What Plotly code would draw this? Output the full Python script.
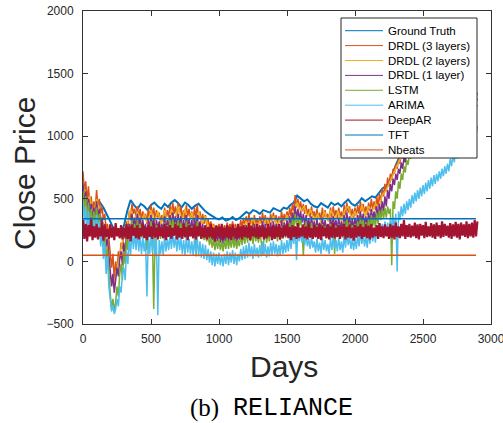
import plotly.graph_objects as go

# ---------------- data ----------------
days = list(range(0, 2901, 25))        # 25-day sampling
days_fine = list(range(0, 2901, 10))   # 10-day sampling for the noisy forecasts

ground_truth = [
    500, 470, 450, 430, 440, 470, 430, 380, 320, 260,
    220, 240, 280, 400, 490, 450, 420, 460, 440, 410,
    450, 470, 440, 420, 460, 435, 470, 490, 465, 430,
    470, 450, 420, 445, 460, 430, 400, 380, 360, 345,
    335, 350, 325, 335, 355, 330, 345, 370, 395, 380,
    410, 400, 380, 410, 400, 390, 425, 410, 400, 430,
    420, 450, 470, 525, 500, 480, 495, 460, 440, 430,
    465, 450, 430, 470, 450, 465, 440, 470, 495, 460,
    445, 470, 505, 480, 500, 520, 510, 550, 580, 600,
    625, 690, 770, 830, 870, 910, 960, 1000, 1040, 1080,
    1120, 1100, 1150, 1180, 1150, 1200, 1230, 1210, 1250, 1280,
    1260, 1300, 1320, 1290, 1330, 1350, 1340]

drdl3 = [
    720, 560, 640, 480, 600, 450, 520, 400, 480, 420,
    570, 430, 500, 380, 440, 330, 380, 260, 300, 180,
    120, -50, 60, -150, 0, -100, 80, 20, 150, 100,
    250, 180, 320, 260, 400, 330, 460, 380, 420, 350,
    440, 360, 420, 330, 400, 340, 380, 300, 420, 340,
    450, 360, 430, 330, 410, 350, 390, 310, 370, 320,
    430, 340, 410, 350, 450, 370, 470, 380, 440, 360,
    470, 380, 440, 340, 410, 330, 450, 360, 420, 340,
    400, 320, 430, 350, 450, 340, 400, 310, 380, 300,
    370, 290, 340, 270, 320, 260, 300, 240, 290, 250,
    300, 240, 280, 230, 290, 250, 310, 240, 300, 260,
    320, 250, 300, 240, 290, 260, 330, 270, 350, 280,
    360, 290, 380, 300, 350, 280, 370, 300, 340, 290,
    360, 300, 390, 310, 370, 290, 350, 300, 380, 310,
    390, 320, 370, 300, 360, 310, 400, 320, 380, 330,
    400, 340, 430, 360, 460, 400, 530, 430, 500, 420,
    480, 400, 460, 380, 450, 370, 420, 350, 440, 360,
    400, 330, 420, 340, 390, 320, 430, 350, 410, 340,
    380, 320, 430, 350, 440, 360, 410, 340, 430, 350,
    400, 330, 450, 370, 470, 390, 440, 360, 420, 350,
    430, 360, 450, 380, 480, 400, 460, 380, 440, 370,
    470, 400, 500, 420, 480, 410, 520, 440, 540, 470,
    580, 520, 620, 560, 670, 600, 700, 650, 740, 700,
    780, 740, 820, 780, 860, 820, 900, 860, 940, 900,
    980, 940, 1010, 980, 1050, 1010, 1080, 1050, 1110, 1080,
    1120, 1090, 1140, 1110, 1160, 1130, 1180, 1150, 1170, 1140,
    1190, 1160, 1210, 1180, 1230, 1200, 1220, 1190, 1240, 1210,
    1260, 1230, 1280, 1250, 1270, 1240, 1290, 1260, 1310, 1280,
    1320, 1290, 1310, 1280, 1330, 1300, 1340, 1310, 1350, 1320,
    1340]

drdl2 = [
    620, 460, 520, 360, 500, 380, 300, 100, -100, -200,
    -50, 80, 220, 290, 420, 310, 400, 290, 380, 300,
    410, 310, 400, 290, 410, 300, 420, 330, 440, 320,
    420, 300, 390, 290, 400, 300, 360, 260, 300, 230,
    280, 220, 270, 230, 290, 240, 280, 250, 320, 260,
    350, 270, 320, 280, 350, 280, 360, 290, 340, 300,
    370, 310, 400, 470, 400, 440, 360, 410, 320, 380,
    310, 400, 320, 410, 330, 400, 320, 410, 440, 340,
    400, 330, 450, 360, 440, 400, 460, 430, 530, 560,
    620, 680, 740, 800, 860, 900, 950, 990, 1030, 1070,
    1090, 1100, 1130, 1150, 1140, 1180, 1200, 1190, 1220, 1250,
    1240, 1270, 1290, 1270, 1300, 1320, 1310]

drdl1 = [
    620, 450, 560, 380, 500, 350, 460, 320, 430, 340,
    480, 350, 420, 280, 350, 200, 300, 120, 180, 40,
    -50, -200, -100, -250, -150, -50, -120, 20, 80, -30,
    150, 60, 230, 150, 300, 220, 380, 270, 350, 260,
    380, 280, 350, 250, 330, 240, 300, 120, 340, 250,
    370, 280, 340, 230, 330, 260, 320, 220, 300, 240,
    360, 250, 330, 260, 370, 280, 390, 290, 360, 270,
    380, 280, 360, 250, 330, 240, 370, 260, 340, 250,
    330, 240, 350, 260, 370, 250, 320, 220, 300, 210,
    290, 200, 260, 180, 240, 170, 230, 150, 220, 160,
    230, 150, 210, 140, 220, 160, 240, 150, 230, 170,
    250, 160, 230, 150, 220, 170, 260, 180, 280, 190,
    290, 200, 310, 210, 280, 190, 300, 210, 270, 200,
    290, 210, 320, 220, 300, 200, 280, 210, 310, 220,
    320, 230, 300, 210, 290, 220, 330, 230, 310, 240,
    330, 250, 360, 270, 390, 310, 440, 340, 420, 330,
    400, 310, 380, 290, 370, 280, 340, 260, 360, 270,
    320, 240, 340, 250, 310, 230, 350, 260, 330, 250,
    300, 230, 350, 260, 360, 270, 330, 250, 350, 260,
    320, 240, 370, 280, 390, 300, 360, 270, 340, 260,
    350, 270, 370, 290, 400, 310, 380, 290, 360, 280,
    390, 310, 420, 330, 400, 320, 440, 350, 460, 380,
    480, 400, 520, 440, 570, 500, 620, 560, 660, 610,
    700, 650, 740, 700, 790, 740, 830, 790, 870, 830,
    910, 870, 950, 910, 990, 950, 1020, 990, 1050, 1020,
    1070, 1040, 1090, 1060, 1110, 1080, 1130, 1100, 1120, 1090,
    1150, 1120, 1170, 1140, 1190, 1160, 1180, 1150, 1200, 1170,
    1220, 1190, 1240, 1210, 1230, 1200, 1250, 1220, 1270, 1240,
    1280, 1250, 1270, 1240, 1290, 1260, 1300, 1270, 1310, 1280,
    1300]

lstm = [
    560, 400, 520, 330, 470, 300, 420, 280, 400, 300,
    430, 300, 380, 220, 300, 120, 230, 20, 100, -120,
    -250, -380, -300, -390, -330, -200, -280, -100, -20, -150,
    80, -20, 180, 90, 280, 180, 330, 220, 300, 200,
    330, 220, 300, 190, 280, 200, 260, 90, 290, 200,
    320, 220, -380, 200, 290, 210, 280, 180, 260, 190,
    310, 210, 290, 220, 330, 240, 340, 250, 310, 220,
    330, 230, 310, 200, 290, 190, 320, 210, 300, 200,
    280, 190, 300, 40, 320, 200, 280, 180, 260, 170,
    250, 160, 210, 130, 190, 110, 180, 90, 170, 100,
    180, 90, 160, 80, 170, 100, 190, 100, 180, 110,
    200, 110, 180, 100, 170, 120, 210, 130, 230, 140,
    240, 150, 260, 160, 230, 140, 250, 160, 220, 150,
    240, 160, 60, 170, 250, 150, 230, 160, 260, 170,
    270, 180, 250, 160, 240, 170, 280, 180, 260, 190,
    280, 200, 310, 220, 340, 260, 380, 290, 360, 280,
    340, 260, 50, 240, 320, 230, 290, 210, 310, 220,
    270, 190, 290, 200, 260, 180, 300, 210, 280, 200,
    250, 180, 300, 210, 310, 60, 280, 200, 300, 210,
    270, 190, 320, 230, 340, 250, 310, 220, 290, 210,
    300, 220, 320, 240, 350, 260, 330, 240, 310, 230,
    340, 260, 370, 280, 350, 270, 390, 300, 410, 330,
    420, 340, 430, 350, 440, 380, 420, -30, 480, 420,
    560, 500, 640, 580, 700, 650, 760, 710, 810, 770,
    860, 820, 900, 860, 940, 900, 970, 940, 1000, 970,
    1020, 990, 1040, 1010, 1060, 1030, 1080, 1050, 1070, 1040,
    1100, 1070, 1120, 1090, 1140, 1110, 1130, 1100, 1150, 1120,
    1170, 1140, 1190, 1160, 1180, 1150, 1200, 1170, 1220, 1190,
    1230, 1200, 1220, 1190, 1240, 1210, 1250, 1220, 1260, 1230,
    1250]

arima = [
    480, 300, 440, 230, 400, 200, 360, 180, 330, 200,
    370, 200, 320, 120, 250, 20, 150, -100, 50, -200,
    -300, -400, -350, -420, -380, -300, -360, -200, -250, -100,
    -50, -150, 80, -20, 180, 50, 250, 100, 220, 90,
    240, 80, 210, 60, 190, 80, 170, -280, 200, 60,
    220, 70, 190, 40, 180, -430, 170, 60, 160, 50,
    210, 80, 180, 90, 220, 100, 230, 110, 200, 80,
    220, 90, 190, 60, 170, 50, 200, 70, 180, 60,
    160, 50, 180, 60, 190, 40, 160, 30, 140, 20,
    130, 10, 100, -10, 80, -30, 70, -40, 60, -20,
    70, -30, 50, -40, 60, -20, 80, -30, 70, -10,
    90, -20, 70, -30, 60, 0, 100, 10, 120, 20,
    130, 30, 150, 40, 120, 20, 140, 40, 110, 30,
    130, 40, 160, 50, 140, 30, 120, 40, 150, 50,
    160, 60, 140, 40, 130, 50, 170, 60, 150, 70,
    170, 80, 200, 100, 230, 140, 280, 10, 260, 160,
    240, 150, 220, 130, 210, 120, 180, 100, 200, 110,
    160, 70, 180, 80, 150, 60, 190, 90, 170, 80,
    140, 60, 190, 90, 200, 100, 170, 80, 190, 90,
    160, 70, 210, 110, 230, 130, 200, 100, 180, 90,
    190, 100, 210, 120, 240, 140, 220, 120, 200, 110,
    230, 140, 260, 160, 240, 150, 280, 180, 300, 200,
    300, 210, 320, 230, 310, 220, 340, 250, 360, 260,
    380, -80, 400, 330, 440, 360, 460, 380, 480, 410,
    500, 430, 530, 460, 550, 480, 570, 500, 590, 520,
    610, 540, 630, 560, 650, 580, 670, 600, 690, 620,
    700, 640, 720, 660, 740, 680, 760, 700, 780, 720,
    820, 760, 850, 790, 880, 820, 900, 850, 930, 870,
    960, 900, 990, 930, 1010, 960, 1040, 990, 1060, 1010,
    1080]

deepar = [
    330, 180, 300, 160, 290, 200, 350, 170, 280, 190,
    300, 175, 270, 200, 310, 165, 285, 195, 260, 180,
    295, 190, 275, 170, 305, 200, 265, 185, 290, 175,
    270, 195, 300, 180, 280, 160, 295, 205, 270, 185,
    290, 175, 265, 200, 300, 185, 275, 170, 290, 195,
    280, 180, 305, 190, 270, 175, 295, 200, 265, 185,
    300, 170, 280, 195, 290, 180, 270, 205, 300, 175,
    285, 190, 265, 180, 300, 195, 275, 170, 290, 200,
    270, 185, 295, 175, 280, 200, 305, 180, 265, 190,
    290, 175, 275, 195, 300, 185, 270, 160, 285, 200,
    280, 190, 300, 175, 270, 195, 290, 185, 275, 170,
    295, 200, 265, 180, 300, 190, 280, 175, 290, 195,
    275, 185, 305, 170, 285, 200, 270, 190, 300, 180,
    280, 195, 290, 175, 265, 185, 300, 200, 275, 170,
    290, 180, 280, 195, 300, 175, 270, 190, 285, 200,
    300, 185, 275, 170, 290, 195, 280, 180, 305, 190,
    270, 200, 295, 185, 280, 175, 300, 190, 265, 180,
    290, 195, 275, 180, 300, 170, 285, 200, 270, 185,
    295, 175, 280, 190, 305, 185, 270, 195, 290, 180,
    280, 200, 300, 175, 275, 190, 295, 185, 270, 165,
    290, 190, 280, 200, 300, 180, 275, 195, 295, 185,
    285, 175, 300, 190, 270, 200, 290, 180, 305, 195,
    280, 185, 295, 200, 275, 180, 300, 190, 285, 175,
    310, 195, 280, 185, 300, 200, 330, 180, 290, 195,
    300, 190, 285, 200, 310, 185, 295, 175, 300, 205,
    290, 185, 315, 195, 280, 200, 305, 190, 295, 180,
    310, 200, 290, 185, 320, 195, 300, 205, 285, 190,
    305, 180, 295, 200, 315, 190, 300, 175, 310, 205,
    295, 195, 320, 185, 300, 200, 310, 190, 330, 200,
    320]

flat_days = [0, 2890]
tft = [340, 340]
nbeats = [50, 50]

names = ["Ground Truth", "DRDL (3 layers)", "DRDL (2 layers)", "DRDL (1 layer)",
         "LSTM", "ARIMA", "DeepAR", "TFT", "Nbeats"]
colors = ["#0072BD", "#D95319", "#EDB120", "#7E2F8E", "#77AC30",
          "#4DBEEE", "#A2142F", "#0072BD", "#D95319"]
widths = [2, 1.5, 1.5, 1.5, 1.5, 1.5, 2.2, 1.5, 1.5]
series = [(days, ground_truth), (days_fine, drdl3), (days, drdl2), (days_fine, drdl1),
          (days_fine, lstm), (days_fine, arima), (days_fine, deepar),
          (flat_days, tft), (flat_days, nbeats)]

# ---------------- figure ----------------
W, H = 503, 423
L, R, T, B = 83, 12, 11, 99
PW, PH = W - L - R, H - T - B

fig = go.Figure()
for (xs, ys), n, c, w in zip(series, names, colors, widths):
    fig.add_trace(go.Scatter(x=xs, y=ys, mode="lines", name=n,
                             line=dict(color=c, width=w), showlegend=False))

def px2x(px):
    return (px - L) / PW

def px2y(py):
    return (H - B - py) / PH

font_sans = "Liberation Sans, Arial, Helvetica, sans-serif"
txt = "#262626"

shapes = []
annotations = []
# legend box drawn by hand to match the compact MATLAB legend
shapes.append(dict(type="rect", xref="paper", yref="paper",
                   x0=px2x(341), x1=px2x(477), y0=px2y(158), y1=px2y(18),
                   line=dict(color="#262626", width=1), fillcolor="white", layer="above"))
for k, (n, c) in enumerate(zip(names, colors)):
    yy = px2y(30.7 + 14.9 * k)
    shapes.append(dict(type="line", xref="paper", yref="paper",
                       x0=px2x(345), x1=px2x(383), y0=yy, y1=yy,
                       line=dict(color=c, width=1), layer="above"))
    annotations.append(dict(text=n, xref="paper", yref="paper", x=px2x(386), y=yy,
                            xanchor="left", yanchor="middle", showarrow=False,
                            font=dict(family=font_sans, size=11.5, color="#000")))

annotations.append(dict(text="Days", xref="paper", yref="paper", x=px2x(284), y=px2y(366),
                        xanchor="center", yanchor="middle", showarrow=False,
                        font=dict(family=font_sans, size=30, color=txt)))
annotations.append(dict(text="Close Price", xref="paper", yref="paper", x=px2x(24), y=px2y(173),
                        xanchor="center", yanchor="middle", showarrow=False, textangle=-90,
                        font=dict(family=font_sans, size=30, color=txt)))
annotations.append(dict(text="(b)", xref="paper", yref="paper", x=px2x(221), y=px2y(408),
                        xanchor="right", yanchor="middle", showarrow=False,
                        font=dict(family="Liberation Serif, Times New Roman, serif", size=25, color="#000")))
annotations.append(dict(text="RELIANCE", xref="paper", yref="paper", x=px2x(231), y=px2y(408),
                        xanchor="left", yanchor="middle", showarrow=False,
                        font=dict(family="Liberation Mono, Courier New, monospace", size=25, color="#000")))

axis_common = dict(showline=True, linecolor="#333", linewidth=1, mirror="ticks",
                   ticks="inside", ticklen=5, tickcolor="#333", tickwidth=1,
                   showgrid=False, zeroline=False, ticklabeloverflow="allow",
                   tickfont=dict(family=font_sans, size=12, color=txt))

fig.update_layout(
    width=W, height=H, margin=dict(l=L, r=R, t=T, b=B, autoexpand=False),
    paper_bgcolor="white", plot_bgcolor="white", showlegend=False,
    xaxis=dict(range=[0, 3000], tickvals=[0, 500, 1000, 1500, 2000, 2500, 3000],
               ticklabelstandoff=4, **axis_common),
    yaxis=dict(range=[-500, 2000], tickvals=[-500, 0, 500, 1000, 1500, 2000],
               ticklabelstandoff=6, **axis_common),
    shapes=shapes, annotations=annotations,
)

fig.write_html("out.html", config={"displayModeBar": False},
               post_script="document.body.style.margin='0';document.body.style.padding='0';")
